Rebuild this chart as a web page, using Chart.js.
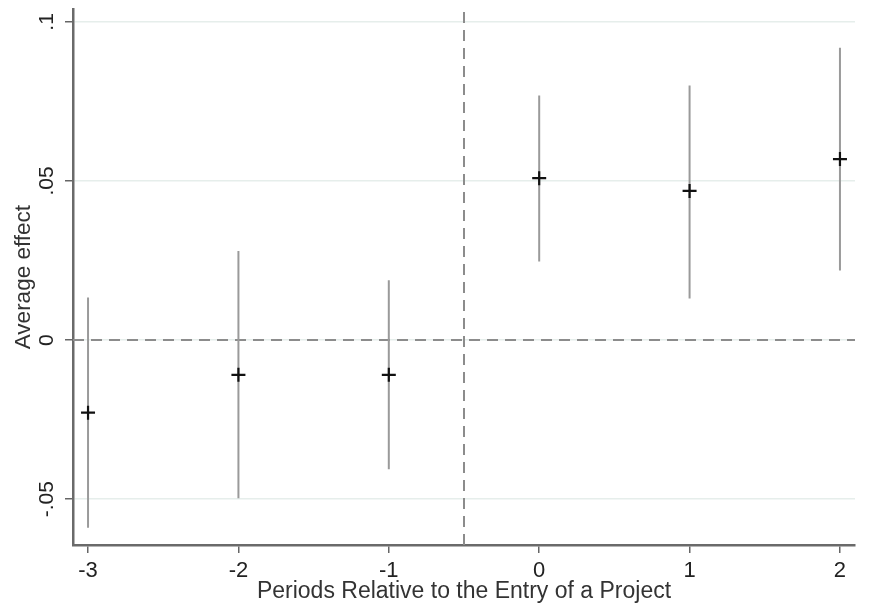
<!DOCTYPE html>
<html>
<head>
<meta charset="utf-8">
<script src="https://cdn.jsdelivr.net/npm/chart.js@4"></script>
<style>
  html, body { margin: 0; padding: 0; background: #fff; }
  #wrap { width: 882px; height: 610px; }
</style>
</head>
<body>
<div id="wrap"><canvas id="effectChart" width="882" height="610"></canvas></div>
<script>
// event-study estimates
const periods = [-3, -2, -1, 0, 1, 2]
const estimates = [-0.0228, -0.0109, -0.0109, 0.0509, 0.0469, 0.0569]
const ciLow = [-0.059, -0.0497, -0.0406, 0.0247, 0.0131, 0.0219]
const ciHigh = [0.0134, 0.028, 0.0188, 0.0769, 0.080, 0.0919]
const yTicks = [-0.05, 0, 0.05, 0.1]
const xRange = [-3.1, 2.1]
const yRange = [-0.0644, 0.104]
const entryLine = -0.5

const fmt = v => {
  if (v === 0) return '0'
  const s = String(+v.toFixed(3))
  return s.replace('0.', '.')
}

const ciSets = periods.map((p, i) => ({
  type: 'line',
  data: [{ x: p, y: ciLow[i] }, { x: p, y: ciHigh[i] }],
  borderColor: '#9a9a9a',
  borderWidth: 2,
  pointRadius: 0,
  order: 3
}))

const refSets = [
  {
    type: 'line',
    data: [{ x: xRange[0], y: 0 }, { x: xRange[1], y: 0 }],
    borderColor: '#8c8c8c',
    borderWidth: 2,
    borderDash: [11, 7],
    pointRadius: 0,
    order: 4
  },
  {
    type: 'line',
    data: [{ x: entryLine, y: yRange[0] }, { x: entryLine, y: yRange[1] }],
    borderColor: '#8c8c8c',
    borderWidth: 2,
    borderDash: [11, 7],
    pointRadius: 0,
    order: 4
  }
]

const noPad = s => {
  s.paddingTop = 0
  s.paddingBottom = 0
  s.paddingLeft = 0
  s.paddingRight = 0
}

new Chart(document.getElementById('effectChart'), {
  type: 'scatter',
  data: {
    datasets: [
      {
        label: 'estimate',
        data: periods.map((p, i) => ({ x: p, y: estimates[i] })),
        pointStyle: 'cross',
        pointRadius: 7,
        borderWidth: 2.2,
        borderColor: '#111',
        order: 1
      },
      ...ciSets,
      ...refSets
    ]
  },
  options: {
    responsive: false,
    animation: false,
    layout: { padding: { top: 7, right: 27, left: 0, bottom: 0 } },
    plugins: { legend: { display: false }, tooltip: { enabled: false } },
    scales: {
      x: {
        type: 'linear',
        min: xRange[0],
        max: xRange[1],
        afterBuildTicks: s => { s.ticks = periods.map(v => ({ value: v })) },
        afterFit: s => { s.height = 65; noPad(s) },
        grid: { drawOnChartArea: false, tickLength: 8, color: '#666', lineWidth: 1.5 },
        border: { color: '#6a6a6a', width: 2.5 },
        ticks: {
          color: '#222',
          font: { family: 'Liberation Sans', size: 22 },
          padding: 5,
          maxRotation: 0
        },
        title: {
          display: true,
          text: 'Periods Relative to the Entry of a Project',
          color: '#333',
          font: { family: 'Liberation Sans', size: 23 },
          padding: { top: 0, bottom: 5 }
        }
      },
      y: {
        type: 'linear',
        min: yRange[0],
        max: yRange[1],
        afterBuildTicks: s => { s.ticks = yTicks.map(v => ({ value: v })) },
        afterFit: s => { s.width = 73; noPad(s) },
        grid: { color: '#e6eeeb', lineWidth: 1.5, tickLength: 8, tickColor: '#666' },
        border: { color: '#6a6a6a', width: 2.5 },
        ticks: {
          color: '#222',
          font: { family: 'Liberation Sans', size: 21 },
          padding: 0,
          minRotation: 90,
          maxRotation: 90,
          crossAlign: 'center',
          callback: v => fmt(v)
        },
        title: {
          display: true,
          text: 'Average effect',
          color: '#333',
          font: { family: 'Liberation Sans', size: 22.5 },
          padding: { top: 10, bottom: 0 }
        }
      }
    }
  }
})
</script>
</body>
</html>
